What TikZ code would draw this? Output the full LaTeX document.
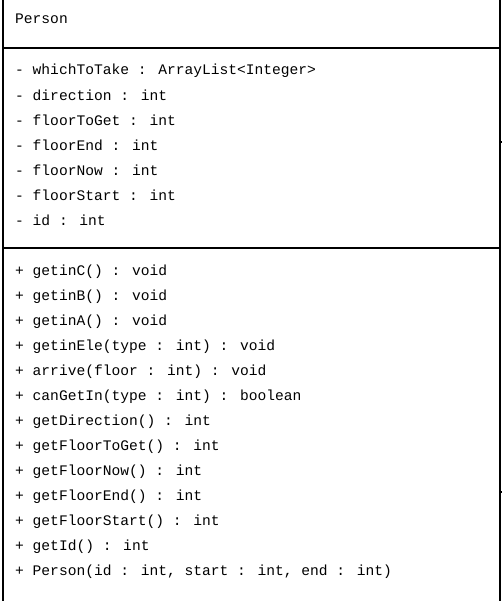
\documentclass[tikz,border=0pt]{standalone}
\usepackage{fontspec}
\newfontfamily\umlfont{Liberation Mono}
\usetikzlibrary{positioning}

\begin{document}
\begin{tikzpicture}[x=1pt,y=-1pt,
    member/.style={anchor=west,inner sep=0pt,font=\umlfont\fontsize{14.6}{16}\selectfont},
    frame/.style={line width=1.1pt}]
    \useasboundingbox (0,0) rectangle (502,601);
    % class name
    \node[member] at (15,19) (name) {Person};
    % attributes
    \foreach \txt [count=\i] in {{- whichToTake : ArrayList<Integer>},
        {- direction : int}, {- floorToGet : int}, {- floorEnd : int},
        {- floorNow : int}, {- floorStart : int}, {- id : int}}
        \node[member] at (15,45.5+25*\i) (attr\i) {\txt};
    % operations
    \foreach \txt [count=\i] in {{+ getinC() : void}, {+ getinB() : void},
        {+ getinA() : void}, {+ getinEle(type : int) : void},
        {+ arrive(floor : int) : void}, {+ canGetIn(type : int) : boolean},
        {+ getDirection() : int}, {+ getFloorToGet() : int},
        {+ getFloorNow() : int}, {+ getFloorEnd() : int},
        {+ getFloorStart() : int}, {+ getId() : int},
        {+ Person(id : int, start : int, end : int)}}
        \node[member] at (15,246.5+25*\i) (op\i) {\txt};
    % box
    \draw[frame] (3,0) -- (3,601);
    \draw[frame] (500,0) -- (500,601);
    \draw[frame] (3,48) -- (500,48);
    \draw[frame] (3,248) -- (500,248);
    % connector stubs on the right side
    \coordinate (stubA) at (502,142);
    \coordinate (stubB) at (502,492);
    \draw[frame] (500,142) -- (stubA);
    \draw[frame] (500,492) -- (stubB);
\end{tikzpicture}
\end{document}
